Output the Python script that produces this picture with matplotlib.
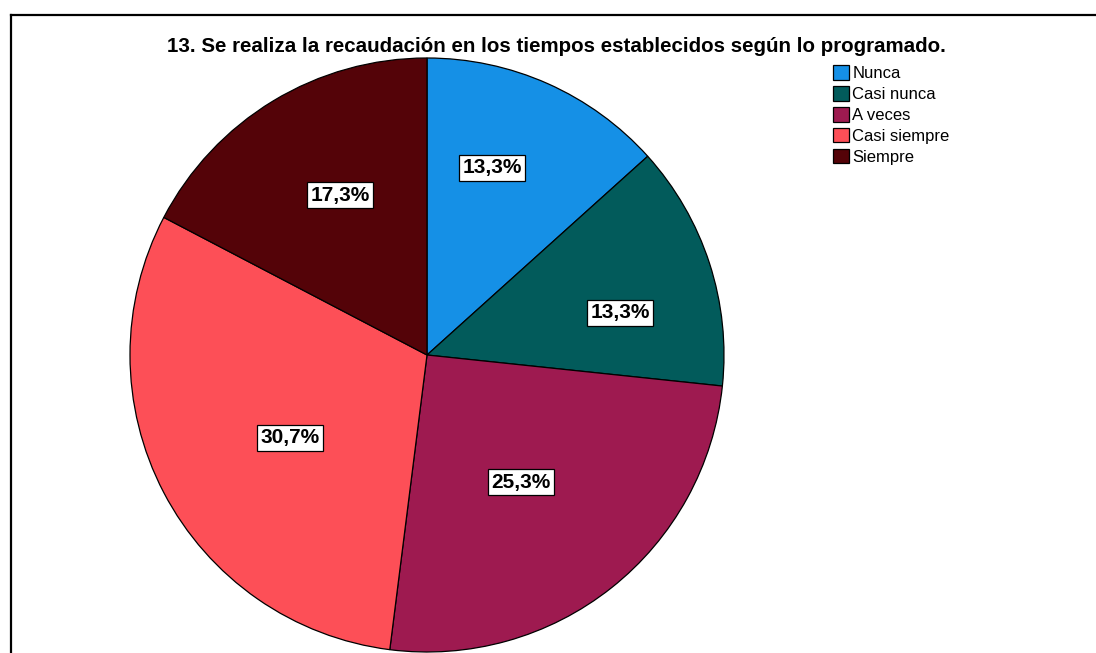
import numpy as np
import matplotlib.pyplot as plt
from matplotlib.lines import Line2D

plt.rcParams['font.family'] = ['Liberation Sans', 'DejaVu Sans']

# Data (n = 75)
categories = ['Nunca', 'Casi nunca', 'A veces', 'Casi siempre', 'Siempre']
counts = [10, 10, 19, 23, 13]
pct_labels = ['13,3%', '13,3%', '25,3%', '30,7%', '17,3%']
colors = ['#1590e6', '#025b5b', '#9e1a50', '#fd4f57', '#540308']
title = '13. Se realiza la recaudación en los tiempos establecidos según lo programado.'

# placement of the percentage boxes: fraction of radius, angle shift (deg)
label_r = [0.667, 0.665, 0.532, 0.539, 0.613]
label_da = [4.8, -5.7, -1.9, 3.6, -2.7]

W, H = 1096, 653
fig = plt.figure(figsize=(W / 100, H / 100), dpi=100)

# pie axes: centre (427, 355) px, radius 297 px
cx, cy, r = 427, 355, 297
ax = fig.add_axes([(cx - r) / W, (H - cy - r) / H, 2 * r / W, 2 * r / H])
wedges, _ = ax.pie(counts, colors=colors, startangle=90, counterclock=False,
                   wedgeprops=dict(edgecolor='black', linewidth=0.9))
ax.set_xlim(-1, 1)
ax.set_ylim(-1, 1)
ax.set_aspect('equal')
ax.axis('off')

for w, lab, rr, da in zip(wedges, pct_labels, label_r, label_da):
    ang = np.deg2rad((w.theta1 + w.theta2) / 2 + da)
    ax.text(rr * np.cos(ang), rr * np.sin(ang), lab, ha='center', va='center',
            fontsize=15, fontweight='bold',
            bbox=dict(boxstyle='square,pad=0.17', facecolor='white',
                      edgecolor='black', linewidth=0.9))

fig.text(556 / W, 1 - 46 / H, title, ha='center', va='center',
         fontsize=14.8, fontweight='bold')

leg = fig.legend(wedges, categories, loc='upper left',
                 bbox_to_anchor=(830 / W, 1 - 62 / H), frameon=False,
                 fontsize=12, handlelength=0.95, handleheight=0.95,
                 handletextpad=0.2, labelspacing=0.3, borderpad=0.2,
                 borderaxespad=0)
for h in leg.legend_handles:
    h.set_edgecolor('black')
    h.set_linewidth(0.9)

# outer frame (left and top edges)
fig.add_artist(Line2D([11 / W, 11 / W], [0, 1 - 15 / H], color='black', lw=1.6))
fig.add_artist(Line2D([11 / W, 1], [1 - 15 / H, 1 - 15 / H], color='black', lw=1.6))

fig.savefig('out.png', dpi=100)
